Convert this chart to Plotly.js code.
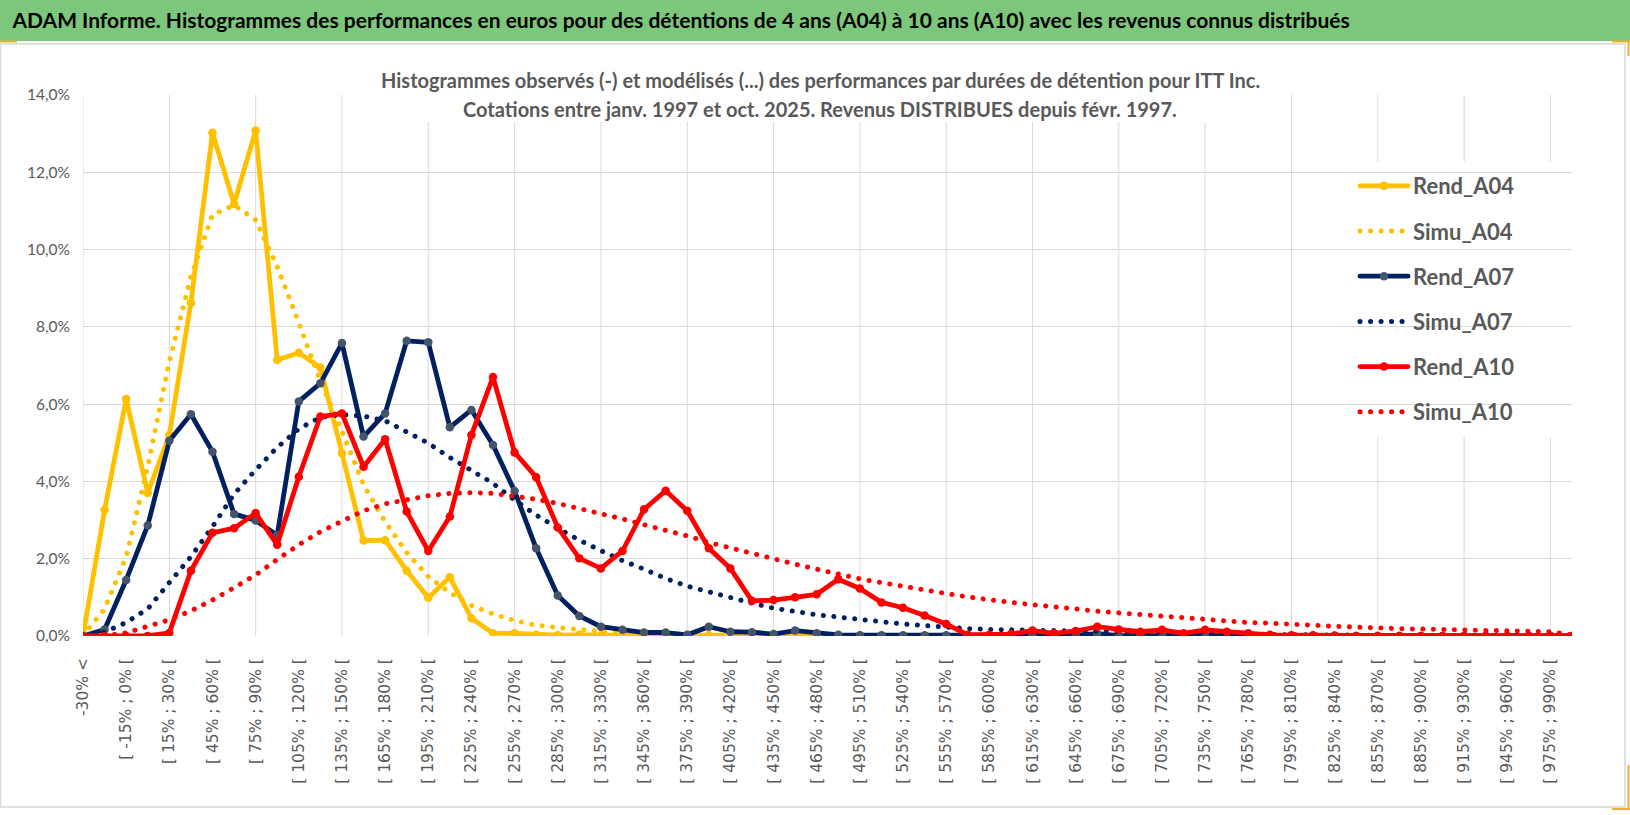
<!DOCTYPE html>
<html>
<head>
<meta charset="utf-8">
<script src="https://cdn.plot.ly/plotly-3.0.1.min.js"></script>
<style>
html,body{margin:0;padding:0;background:#fff;}
#chart{width:1630px;height:815px;}
</style>
</head>
<body>
<div id="chart"></div>
<script>
// ---------- DATA ----------
const categories = [
"-30% <","[ -30% ; -15% [","[ -15% ; 0% [","[ 0% ; 15% [","[ 15% ; 30% [","[ 30% ; 45% [","[ 45% ; 60% [","[ 60% ; 75% [","[ 75% ; 90% [","[ 90% ; 105% [",
"[ 105% ; 120% [","[ 120% ; 135% [","[ 135% ; 150% [","[ 150% ; 165% [","[ 165% ; 180% [","[ 180% ; 195% [","[ 195% ; 210% [","[ 210% ; 225% [","[ 225% ; 240% [","[ 240% ; 255% [",
"[ 255% ; 270% [","[ 270% ; 285% [","[ 285% ; 300% [","[ 300% ; 315% [","[ 315% ; 330% [","[ 330% ; 345% [","[ 345% ; 360% [","[ 360% ; 375% [","[ 375% ; 390% [","[ 390% ; 405% [",
"[ 405% ; 420% [","[ 420% ; 435% [","[ 435% ; 450% [","[ 450% ; 465% [","[ 465% ; 480% [","[ 480% ; 495% [","[ 495% ; 510% [","[ 510% ; 525% [","[ 525% ; 540% [","[ 540% ; 555% [",
"[ 555% ; 570% [","[ 570% ; 585% [","[ 585% ; 600% [","[ 600% ; 615% [","[ 615% ; 630% [","[ 630% ; 645% [","[ 645% ; 660% [","[ 660% ; 675% [","[ 675% ; 690% [","[ 690% ; 705% [",
"[ 705% ; 720% [","[ 720% ; 735% [","[ 735% ; 750% [","[ 750% ; 765% [","[ 765% ; 780% [","[ 780% ; 795% [","[ 795% ; 810% [","[ 810% ; 825% [","[ 825% ; 840% [","[ 840% ; 855% [",
"[ 855% ; 870% [","[ 870% ; 885% [","[ 885% ; 900% [","[ 900% ; 915% [","[ 915% ; 930% [","[ 930% ; 945% [","[ 945% ; 960% [","[ 960% ; 975% [","[ 975% ; 990% [","[ 990% ; 1005% ["
];

// values in %
const rendA04 = [0,3.26,6.13,3.7,5.2,8.62,13.02,11.18,13.08,7.14,
7.33,6.95,4.73,2.47,2.48,1.69,0.99,1.52,0.46,0.07,
0.07,0.03,0.02,0.03,0.02,0.02,0.01,0.02,0.01,0.02,
0.01,0.01,0.01,0.01,0,0,0,0,0,0,
0,0,0,0,0,0,0,0,0,0,
0,0,0,0,0,0,0,0,0,0,
0,0,0,0,0,0,0,0,0,0];

const simuA04 = [0,0.7,2.05,4.38,7.1,9.3,10.9,11.15,10.77,9.56,
8.1,6.6,5.3,3.91,2.96,2.16,1.54,1.12,0.79,0.57,
0.4,0.28,0.22,0.16,0.12,0.09,0.07,0.05,0.04,0.03,
0.02,0.02,0.01,0.01,0,0,0,0,0,0,
0,0,0,0,0,0,0,0,0,0,
0,0,0,0,0,0,0,0,0,0,
0,0,0,0,0,0,0,0,0,0];

const rendA07 = [0,0.17,1.45,2.86,5.05,5.74,4.77,3.16,2.99,2.61,
6.07,6.54,7.58,5.16,5.76,7.64,7.6,5.4,5.85,4.94,
3.75,2.27,1.05,0.52,0.24,0.16,0.09,0.09,0.03,0.24,
0.11,0.1,0.05,0.14,0.07,0.03,0.02,0.02,0.02,0.02,
0.02,0.01,0.01,0.01,0.01,0.01,0.02,0.06,0.01,0.01,
0.01,0,0,0,0,0,0,0,0,0,
0,0,0,0,0,0,0,0,0,0];

const simuA07 = [0,0.1,0.35,0.7,1.38,2.05,2.83,3.67,4.3,4.88,
5.36,5.66,5.73,5.69,5.57,5.28,4.99,4.62,4.3,3.95,
3.52,3.13,2.79,2.48,2.21,1.95,1.73,1.49,1.29,1.14,
0.97,0.85,0.72,0.62,0.55,0.49,0.42,0.36,0.31,0.27,
0.22,0.19,0.17,0.16,0.14,0.11,0.1,0.09,0.08,0.07,
0.06,0.05,0.05,0.04,0.04,0.03,0.03,0.03,0.02,0.02,
0.02,0.01,0.01,0.01,0.01,0.01,0.01,0.01,0.01,0.01];

const rendA10 = [0,0,0,0,0.08,1.69,2.67,2.79,3.18,2.36,
4.12,5.68,5.76,4.38,5.09,3.22,2.2,3.09,5.2,6.7,
4.75,4.11,2.81,2.01,1.75,2.2,3.28,3.76,3.24,2.27,
1.75,0.91,0.93,1.0,1.08,1.47,1.23,0.87,0.73,0.53,
0.31,0.03,0.03,0.05,0.14,0.07,0.13,0.24,0.17,0.11,
0.16,0.07,0.16,0.11,0.07,0.03,0.02,0.02,0.01,0,
0,0,0,0,0,0,0,0,0,0];

const simuA10 = [0,0.01,0.08,0.25,0.42,0.65,0.93,1.25,1.58,1.98,
2.36,2.7,2.98,3.24,3.42,3.54,3.63,3.69,3.71,3.69,
3.63,3.54,3.43,3.3,3.18,3.03,2.88,2.74,2.59,2.42,
2.28,2.11,1.98,1.86,1.73,1.59,1.48,1.38,1.28,1.17,
1.1,1.01,0.93,0.87,0.81,0.74,0.7,0.64,0.6,0.53,
0.49,0.46,0.42,0.39,0.35,0.33,0.29,0.28,0.25,0.22,
0.21,0.19,0.18,0.17,0.16,0.16,0.14,0.13,0.11,0.03];

const seriesNames = ["Rend_A04","Simu_A04","Rend_A07","Simu_A07","Rend_A10","Simu_A10"];
const yTicks = [0,2,4,6,8,10,12,14];
const yTickLabels = ["0,0%","2,0%","4,0%","6,0%","8,0%","10,0%","12,0%","14,0%"];

// ---------- STYLE ----------
const YELLOW = "#FFC000", NAVY = "#002060", NAVYMK = "#44546A", RED = "#FF0000";
const GRID = "#D9D9D9", TXT = "#595959";
const W = 1630, H = 815, L = 83, R = 1572, T = 95, B = 636;
const px = v => (v - L) / (R - L);
const py = v => (B - v) / (B - T);

function solid(name, y, color, mk, g) {
  return {type:"scatter", mode:"lines+markers", name:name, x:categories, y:y,
    legendgroup:g, line:{color:color, width:4.8}, marker:{color:mk, size:8.5},
    hoverinfo:"skip"};
}
function dotted(name, y, color, g) {
  return {type:"scatter", mode:"lines", name:name, x:categories, y:y,
    legendgroup:g, line:{color:color, width:5, dash:"0.1px,10.4px"},
    hoverinfo:"skip"};
}

const data = [
  solid(seriesNames[0], rendA04, YELLOW, YELLOW, "g1"),
  dotted(seriesNames[1], simuA04, YELLOW, "g2"),
  solid(seriesNames[2], rendA07, NAVY, NAVYMK, "g3"),
  dotted(seriesNames[3], simuA07, NAVY, "g4"),
  solid(seriesNames[4], rendA10, RED, RED, "g5"),
  dotted(seriesNames[5], simuA10, RED, "g6")
];

const shapes = [];
shapes.push({type:"rect", xref:"paper", yref:"paper", x0:px(0), x1:px(W), y0:py(41), y1:py(0),
  fillcolor:"rgb(124,199,124)", line:{width:0}, layer:"below"});
shapes.push({type:"rect", xref:"paper", yref:"paper", x0:px(0.5), x1:px(1625), y0:py(807), y1:py(44),
  fillcolor:"rgba(0,0,0,0)", line:{color:GRID, width:1.5}, layer:"below"});
categories.forEach((c, i) => {
  if (i % 4 === 0) shapes.push({type:"line", xref:"x", yref:"paper", x0:i, x1:i, y0:0, y1:1,
    line:{color:GRID, width:1}, layer:"between"});
});
shapes.push({type:"rect", xref:"paper", yref:"paper", x0:px(372), x1:px(1254), y0:py(122), y1:py(60),
  fillcolor:"#fff", line:{width:0}, layer:"between"});
shapes.push({type:"rect", xref:"paper", yref:"paper", x0:px(1310), x1:px(1572), y0:py(437), y1:py(162),
  fillcolor:"#fff", line:{width:0}, layer:"between"});
const YM = "#F0B323";
shapes.push({type:"line", xref:"paper", yref:"paper", x0:px(0), x1:px(17), y0:py(41.5), y1:py(41.5), line:{color:YM, width:2}});
shapes.push({type:"line", xref:"paper", yref:"paper", x0:px(1612), x1:px(1630), y0:py(41.5), y1:py(41.5), line:{color:YM, width:2}});
shapes.push({type:"line", xref:"paper", yref:"paper", x0:px(1628.5), x1:px(1628.5), y0:py(41), y1:py(56), line:{color:YM, width:2}});
shapes.push({type:"line", xref:"paper", yref:"paper", x0:px(1628.5), x1:px(1628.5), y0:py(765), y1:py(810), line:{color:YM, width:2}});
shapes.push({type:"line", xref:"paper", yref:"paper", x0:px(1612), x1:px(1630), y0:py(809), y1:py(809), line:{color:YM, width:2}});

const evenTicks = categories.filter((c, i) => i % 2 === 0);

const layout = {
  width:W, height:H,
  margin:{l:L, r:W-R, t:T, b:H-B, pad:0},
  paper_bgcolor:"#fff", plot_bgcolor:"#fff",
  separators:", ",
  showlegend:true,
  title:{text:"<b>ADAM Informe. Histogrammes des performances en euros pour des détentions de 4 ans (A04) à 10 ans (A10) avec les revenus connus distribués</b>",
    font:{family:"Lato, 'Open Sans', sans-serif", size:21, color:"#000"},
    xref:"container", yref:"container", x:12.5/W, xanchor:"left", y:1-21/H, yanchor:"middle"},
  xaxis:{type:"category", range:[0, categories.length-1], tickmode:"array", tickvals:evenTicks, ticktext:evenTicks,
    tickangle:-90, showgrid:false, zeroline:false, showline:false, ticks:"",
    tickfont:{family:"DejaVu Sans, sans-serif", size:15.5, color:TXT}, ticklabelstandoff:18, automargin:false, fixedrange:true},
  yaxis:{range:[0,14], tickmode:"array", tickvals:yTicks, ticktext:yTickLabels,
    showgrid:true, gridcolor:GRID, gridwidth:1, zeroline:false, showline:false, ticks:"",
    tickfont:{family:"Lato, sans-serif", size:15.5, color:TXT}, ticklabelstandoff:12, automargin:false, fixedrange:true},
  legend:{x:px(1355), xanchor:"left", y:py(165), yanchor:"top", bgcolor:"rgba(0,0,0,0)", borderwidth:0,
    font:{family:"Lato, sans-serif", size:22, color:TXT, weight:"bold"}, itemwidth:48,
    traceorder:"grouped", tracegroupgap:13.6},
  shapes:shapes,
  annotations:[
    {xref:"paper", yref:"paper", x:px(820), y:py(80), xanchor:"center", yanchor:"middle", showarrow:false,
     text:"<b>Histogrammes observés (-) et modélisés (...) des performances par durées de détention pour ITT Inc.</b>",
     font:{family:"Lato, sans-serif", size:20, color:TXT}},
    {xref:"paper", yref:"paper", x:px(820), y:py(109), xanchor:"center", yanchor:"middle", showarrow:false,
     text:"<b>Cotations entre janv. 1997 et oct. 2025. Revenus DISTRIBUES depuis févr. 1997.</b>",
     font:{family:"Lato, sans-serif", size:20, color:TXT}}
  ]
};

function roundCaps(gd) {
  gd.querySelectorAll("path.js-line").forEach(p => {
    p.setAttribute("stroke-linecap", "round");
    p.setAttribute("stroke-linejoin", "round");
    p.style.strokeLinecap = "round";
    p.style.strokeLinejoin = "round";
  });
}
Plotly.newPlot("chart", data, layout, {staticPlot:true, displayModeBar:false}).then(gd => {
  roundCaps(gd);
  setTimeout(() => roundCaps(gd), 50);
});
</script>
</body>
</html>
